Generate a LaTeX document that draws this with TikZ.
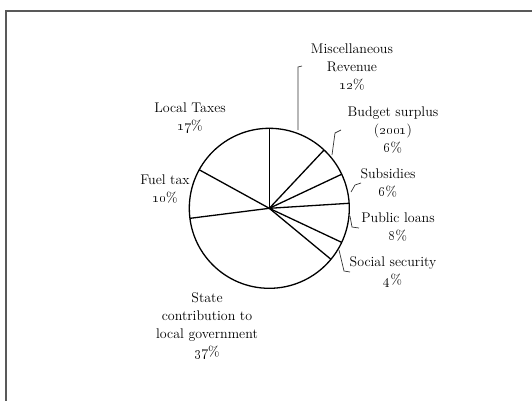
\documentclass[tikz,border=0pt]{standalone}
\usetikzlibrary{positioning}
\begin{document}
\begin{tikzpicture}[x=1pt, y=-1pt,
    slice/.style={line width=1.3pt, black},
    leader/.style={line width=0.7pt, black!80},
    lbl/.style={align=center, inner sep=0pt, font=\fontsize{14}{18}\selectfont}]
    \useasboundingbox (0,0) rectangle (532,400);
    % frame, cut by the page at right and bottom
    \draw[line width=1.6pt, black!65] (6,410) -- (6,11) -- (540,11);

    % pie: 12, 6, 6, 8, 4, 37, 10, 17 per cent
    \coordinate (c) at (269.3,208.3);
    \draw[slice] (c) circle (80pt);
    \foreach \a in {90,46.8,25.2,3.6,-25.2,-39.6,-172.8,151.2}
        \draw[slice] (c) -- ++(\a:80pt);

    % labels
    \node[lbl] (misc)   at (352,67)    {Miscellaneous\\Revenue\\\oldstylenums{12}\%};
    \node[lbl] (local)  at (190,118.5) {Local Taxes\\\oldstylenums{17}\%};
    \node[lbl] (budget) at (393,130)   {Budget surplus\\(\oldstylenums{2001})\\\oldstylenums{6}\%};
    \node[lbl] (subs)   at (388,182.5) {Subsidies\\\oldstylenums{6}\%};
    \node[lbl] (fuel)   at (165,189.5) {Fuel tax\\\oldstylenums{10}\%};
    \node[lbl] (loans)  at (398,227)   {Public loans\\\oldstylenums{8}\%};
    \node[lbl] (social) at (393,272)   {Social security\\\oldstylenums{4}\%};
    \node[lbl] (state)  at (207,326)   {State\\contribution to\\local government\\\oldstylenums{37}\%};

    % leader lines
    \coordinate (misc-a) at (298,130);   \coordinate (misc-b) at (298,67);   \coordinate (misc-c) at (302,66);
    \coordinate (budget-a) at (332,155); \coordinate (budget-b) at (335,133); \coordinate (budget-c) at (341,130);
    \coordinate (subs-a) at (351,192);   \coordinate (subs-b) at (355,185);   \coordinate (subs-c) at (361,183);
    \coordinate (loans-a) at (350,216);  \coordinate (loans-b) at (352,227);  \coordinate (loans-c) at (359,228);
    \coordinate (social-a) at (339,250); \coordinate (social-b) at (344,271); \coordinate (social-c) at (350,272);
    \draw[leader] (misc-a) -- (misc-b) -- (misc-c);
    \draw[leader] (budget-a) -- (budget-b) -- (budget-c);
    \draw[leader] (subs-a) -- (subs-b) -- (subs-c);
    \draw[leader] (loans-a) -- (loans-b) -- (loans-c);
    \draw[leader] (social-a) -- (social-b) -- (social-c);
\end{tikzpicture}
\end{document}
